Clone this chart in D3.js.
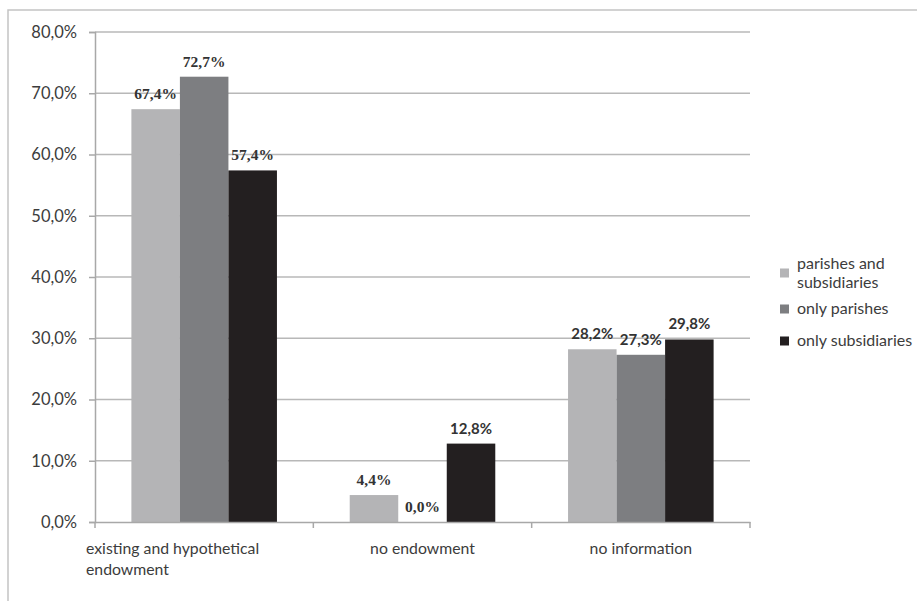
<!DOCTYPE html>
<html>
<head>
<meta charset="utf-8">
<script src="https://cdn.jsdelivr.net/npm/d3@7"></script>
<style>
  html, body { margin: 0; padding: 0; background: #fff; }
  svg { display: block; }
</style>
</head>
<body>
<div id="chart"></div>
<script>
// chart data
const categories = ["existing and hypothetical endowment", "no endowment", "no information"];
const seriesNames = ["parishes and subsidiaries", "only parishes", "only subsidiaries"];
const partsAndSubs = [67.4, 4.4, 28.2];
const onlyParishes = [72.7, 0.0, 27.3];
const onlySubs = [57.4, 12.8, 29.8];
const yTicks = [0, 10, 20, 30, 40, 50, 60, 70, 80];

const seriesValues = [partsAndSubs, onlyParishes, onlySubs];
const colors = ["#b4b4b6", "#7d7e81", "#231f20"];

const width = 917, height = 601;
const margins = { top: 32, left: 95, right: 167, bottom: 79 };
const sansFont = "Lato, 'Open Sans', sans-serif";

const svg = d3.select("#chart").append("svg")
  .attr("width", width)
  .attr("height", height);

// outer frame (cropped, only top and left visible)
svg.append("path")
  .attr("d", `M8,${height} L8,10 L${width},10`)
  .attr("fill", "none")
  .attr("stroke", "#c4c4c4")
  .attr("stroke-width", 1.5);

const x0 = d3.scaleBand()
  .domain(categories)
  .range([margins.left, width - margins.right]);

// gap width 150%: 0.75 bar widths on each side of a group
const x1 = d3.scaleBand()
  .domain(d3.range(seriesNames.length))
  .range([0, x0.bandwidth()])
  .paddingOuter(0.75)
  .paddingInner(0);

const y = d3.scaleLinear()
  .domain([0, 80])
  .range([height - margins.bottom, margins.top]);

// grid lines
svg.append("g")
  .selectAll("line")
  .data(yTicks.filter(d => d > 0))
  .join("line")
  .attr("x1", margins.left)
  .attr("x2", width - margins.right)
  .attr("y1", d => y(d))
  .attr("y2", d => y(d))
  .attr("stroke", "#b8b8b8")
  .attr("stroke-width", 1.5);

const fmt = v => d3.format(".1f")(v).replace(".", ",") + "%";

// y axis
const yAxis = svg.append("g")
  .attr("transform", `translate(${margins.left},0)`)
  .call(d3.axisLeft(y).tickValues(yTicks).tickSize(6).tickPadding(12).tickFormat(fmt));
yAxis.select(".domain").attr("stroke", "#a8a8a8").attr("stroke-width", 1.5);
yAxis.selectAll(".tick line").attr("stroke", "#a8a8a8").attr("stroke-width", 1.5);
yAxis.selectAll(".tick text")
  .attr("fill", "#3c3c3c")
  .style("font-family", sansFont)
  .style("font-size", "16.5px");

// bars
const groups = svg.append("g")
  .selectAll("g")
  .data(categories)
  .join("g")
  .attr("transform", d => `translate(${x0(d)},0)`);

const cells = (c, ci) => seriesValues.map((vals, si) => ({ si, ci, v: vals[ci] }));

groups.selectAll("rect")
  .data(cells)
  .join("rect")
  .attr("x", d => x1(d.si))
  .attr("width", x1.bandwidth())
  .attr("y", d => y(d.v))
  .attr("height", d => y(0) - y(d.v))
  .attr("fill", d => colors[d.si]);

// x axis
const xAxis = svg.append("g")
  .attr("transform", `translate(0,${y(0)})`)
  .call(d3.axisBottom(x0).tickSize(0).tickFormat(""));
xAxis.select(".domain").attr("stroke", "#a8a8a8").attr("stroke-width", 1.5);
svg.append("g")
  .selectAll("line")
  .data(d3.range(categories.length + 1))
  .join("line")
  .attr("x1", i => margins.left + i * x0.bandwidth())
  .attr("x2", i => margins.left + i * x0.bandwidth())
  .attr("y1", y(0))
  .attr("y2", y(0) + 6)
  .attr("stroke", "#a8a8a8")
  .attr("stroke-width", 1.5);

// category labels
categories.forEach((c, i) => {
  const t = svg.append("text")
    .attr("fill", "#3c3c3c")
    .style("font-family", sansFont)
    .style("font-size", "15.8px");
  if (i === 0) {
    // wrapped label, left aligned as in the source
    t.attr("text-anchor", "start");
    t.append("tspan").attr("x", x0(c) - 9).attr("y", y(0) + 32).text("existing and hypothetical");
    t.append("tspan").attr("x", x0(c) - 9).attr("y", y(0) + 53).text("endowment");
  } else {
    t.attr("text-anchor", "middle")
      .attr("x", x0(c) + x0.bandwidth() / 2)
      .attr("y", y(0) + 32)
      .text(c);
  }
});

// value labels
const isSerif = d => d.ci === 0 || (d.ci === 1 && d.si < 2);
groups.selectAll("text.val")
  .data(cells)
  .join("text")
  .attr("class", "val")
  .attr("text-anchor", "middle")
  .attr("x", d => x1(d.si) + x1.bandwidth() / 2)
  .attr("y", d => y(d.v) - 10)
  .attr("fill", "#333")
  .style("font-weight", "bold")
  .style("font-family", d => isSerif(d) ? "'Liberation Serif', serif" : sansFont)
  .style("font-size", d => isSerif(d) ? "15.5px" : "15px")
  .text(d => fmt(d.v));

// legend
const legend = svg.append("g")
  .attr("transform", `translate(780,0)`);
const legendRows = [
  { lines: ["parishes and", "subsidiaries"], cy: 273 },
  { lines: ["only parishes"], cy: 309 },
  { lines: ["only subsidiaries"], cy: 341 }
];
legendRows.forEach((r, i) => {
  legend.append("rect")
    .attr("x", 0)
    .attr("y", r.cy - 4.5)
    .attr("width", 9)
    .attr("height", 9)
    .attr("fill", colors[i]);
  const t = legend.append("text")
    .attr("fill", "#3c3c3c")
    .style("font-family", sansFont)
    .style("font-size", "16px");
  r.lines.forEach((ln, li) => {
    t.append("tspan")
      .attr("x", 17)
      .attr("y", r.cy + 5 + (li - (r.lines.length - 1) / 2) * 19)
      .text(ln);
  });
});
</script>
</body>
</html>
